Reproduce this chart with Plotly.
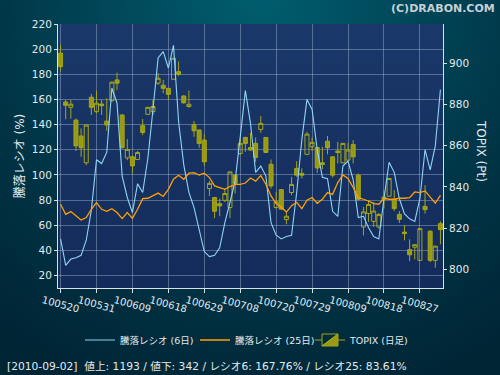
import base64
import plotly.graph_objects as go

# ---------------- data ----------------
dates = [
    "100520", "100521", "100524", "100525", "100526", "100527", "100528", "100531",
    "100601", "100602", "100603", "100604", "100607", "100608", "100609", "100610",
    "100611", "100614", "100615", "100616", "100617", "100618", "100621", "100622",
    "100623", "100624", "100625", "100628", "100629", "100630",
    "100701", "100702", "100705", "100706", "100707", "100708", "100709", "100712",
    "100713", "100714", "100715", "100716", "100720", "100721", "100722", "100723",
    "100726", "100727", "100728", "100729", "100730",
    "100802", "100803", "100804", "100805", "100806", "100809", "100810", "100811",
    "100812", "100813", "100816", "100817", "100818", "100819", "100820", "100823",
    "100824", "100825", "100826", "100827", "100830", "100831",
    "100901", "100902",
]
tick_labels = ["100520", "100531", "100609", "100618", "100629", "100708",
               "100720", "100729", "100809", "100818", "100827"]

topix_open = [904.9, 881.2, 878.6, 872.4, 864.7, 851.7, 883.5, 876.5, 880.2, 871.9,
              881.8, 891.9, 874.9, 854.1, 854.6, 853.3, 869.7, 875.2, 876.5, 890.3,
              889.3, 887.8, 892.2, 895.9, 884.1, 879.0, 870.3, 867.6, 862.7, 839.2,
              834.9, 831.9, 833.5, 830.0, 845.7, 856.2, 864.0, 859.1, 861.1, 867.9,
              864.0, 851.0, 830.0, 838.7, 824.2, 837.3, 849.0, 846.5, 855.8, 859.5,
              859.1, 851.7, 862.2, 854.6, 857.4, 851.7, 853.0, 860.6, 845.7, 820.6,
              827.1, 823.3, 820.6, 834.0, 835.5, 833.9, 826.7, 818.1, 809.6, 810.8,
              804.4, 830.6, 818.5, 804.4, 822.2]
topix_high = [908.9, 882.2, 882.2, 873.1, 868.4, 870.3, 885.1, 886.7, 882.2, 883.0,
              891.1, 895.4, 875.2, 863.2, 855.4, 857.4, 872.9, 878.8, 882.2, 895.2,
              891.9, 888.0, 902.6, 900.8, 884.5, 886.7, 872.0, 867.8, 865.6, 842.9,
              835.1, 834.4, 839.2, 847.5, 845.9, 863.5, 864.3, 866.3, 864.0, 874.4,
              864.2, 853.3, 837.6, 838.9, 827.6, 844.9, 852.5, 849.0, 866.7, 864.0,
              859.3, 859.5, 864.7, 854.9, 861.9, 861.3, 861.4, 862.7, 846.5, 830.3,
              833.5, 832.7, 827.4, 838.1, 844.3, 838.4, 828.3, 821.4, 814.6, 812.2,
              820.0, 840.8, 819.0, 811.5, 823.3]
topix_low = [895.9, 872.8, 873.1, 857.4, 854.6, 850.6, 874.9, 875.7, 874.9, 867.2,
             881.3, 887.0, 858.7, 853.0, 846.5, 853.0, 865.1, 875.0, 874.9, 889.5,
             885.4, 882.2, 892.0, 893.8, 880.3, 878.4, 864.3, 859.0, 850.2, 835.6,
             824.9, 825.8, 832.7, 824.9, 836.8, 855.4, 857.0, 857.5, 852.2, 866.3,
             856.5, 839.2, 829.5, 829.0, 821.9, 836.0, 844.9, 844.1, 855.4, 857.4,
             846.8, 848.6, 855.8, 844.6, 851.4, 851.5, 853.0, 851.4, 833.5, 816.5,
             823.0, 820.6, 819.8, 829.5, 835.3, 828.3, 822.5, 814.1, 804.0, 804.9,
             804.2, 827.1, 803.5, 800.8, 812.2]
topix_close = [898.3, 879.6, 880.1, 859.9, 859.0, 870.0, 878.6, 880.6, 879.4, 870.0,
               890.8, 890.3, 859.0, 858.2, 850.2, 856.7, 866.4, 878.6, 879.0, 892.7,
               887.8, 884.9, 902.4, 894.6, 880.8, 880.1, 867.2, 861.1, 852.2, 841.7,
               828.2, 830.8, 836.8, 847.3, 841.7, 861.1, 861.1, 857.9, 854.3, 870.8,
               856.7, 840.5, 832.8, 829.2, 825.8, 841.2, 845.7, 845.7, 865.6, 861.6,
               849.2, 850.9, 859.0, 845.7, 856.7, 861.1, 857.9, 854.6, 834.0, 827.9,
               831.5, 828.3, 826.6, 835.1, 844.1, 829.5, 824.3, 817.4, 807.1, 812.0,
               819.8, 829.0, 804.4, 811.3, 819.3]

ratio6 = [49, 28, 33, 34, 36, 48, 72, 112, 109, 118,
          169, 157, 99, 82, 70, 93, 86, 113, 152, 193,
          198, 185, 203, 142, 108, 86, 74, 57, 39, 35,
          36, 42, 62, 78, 95, 130, 167, 141, 102, 107,
          99, 62, 52, 49, 51, 52, 86, 128, 160, 152,
          120, 98, 97, 71, 67, 107, 111, 96, 66, 67,
          58, 51, 49, 81, 110, 102, 81, 69, 65, 63,
          81, 120, 104, 123, 167.76]
ratio25 = [76.6, 68.6, 70.8, 67.8, 64.1, 66.0, 72.6, 77.9, 72.6, 71.0,
           73.1, 70.0, 65.2, 70.0, 65.4, 72.6, 81.1, 81.4, 83.5, 85.5,
           82.8, 88.5, 96.5, 99.7, 96.5, 101.3, 101.8, 99.9, 101.3, 97.8,
           91.2, 89.6, 88.5, 90.7, 92.5, 92.5, 93.5, 97.5, 95.0, 99.5,
           92.5, 83.2, 77.1, 74.3, 70.4, 75.5, 78.2, 73.1, 79.8, 81.9,
           77.4, 80.6, 85.9, 84.5, 93.9, 100.0, 97.1, 89.9, 81.9, 80.6,
           79.2, 77.1, 76.6, 81.4, 80.6, 80.6, 81.4, 81.4, 81.9, 86.4,
           85.9, 87.2, 81.9, 77.4, 83.61]

info_text = "[2010-09-02]\u00a0 値上: 1193 / 値下: 342 / レシオ6: 167.76% / レシオ25: 83.61%"

# ---------------- layout geometry ----------------
W, H = 500, 375
ML, MR, MT, MB = 58, 57, 24, 87
PW, PH = W - ML - MR, H - MT - MB

def px_x(px):
    return (px - ML) / PW

def px_y(py):
    return (H - MB - py) / PH

# background (radial teal gradient + navy plot panel) as an svg image
svg = f'''<svg xmlns="http://www.w3.org/2000/svg" width="{W}" height="{H}" viewBox="0 0 {W} {H}" preserveAspectRatio="none">
<defs>
<radialGradient id="g" gradientUnits="userSpaceOnUse" cx="260" cy="0" r="420">
<stop offset="0" stop-color="#005d6c"/>
<stop offset="0.35" stop-color="#00485a"/>
<stop offset="0.7" stop-color="#003243"/>
<stop offset="1" stop-color="#002535"/>
</radialGradient>
<linearGradient id="p" x1="0" y1="0" x2="0" y2="1">
<stop offset="0" stop-color="#1a386a"/>
<stop offset="1" stop-color="#132b5a"/>
</linearGradient>
</defs>
<rect x="0" y="0" width="{W}" height="{H}" fill="url(#g)"/>
<rect x="{ML}" y="{MT}" width="{PW}" height="{PH}" fill="url(#p)"/>
</svg>'''
bg_src = "data:image/svg+xml;base64," + base64.b64encode(svg.encode()).decode()

FONT = "DejaVu Sans, Noto Sans CJK JP, sans-serif"
TXT = "#e4eaee"
GRID = "rgba(190,205,230,0.38)"
AXIS = "#d8e0e8"
CANDLE = "#a5a51a"

fig = go.Figure()
fig.add_trace(go.Candlestick(
    x=dates, open=topix_open, high=topix_high, low=topix_low, close=topix_close,
    name="TOPIX (日足)", legendrank=3, yaxis="y",
    increasing=dict(line=dict(color=CANDLE, width=1), fillcolor="rgba(0,0,0,0)"),
    decreasing=dict(line=dict(color=CANDLE, width=1), fillcolor="#9a9a12"),
    whiskerwidth=0,
))
fig.add_trace(go.Scatter(
    x=dates, y=ratio6, mode="lines", name="騰落レシオ (6日)", legendrank=1,
    yaxis="y2", line=dict(color="#8fd4f4", width=1.1),
))
fig.add_trace(go.Scatter(
    x=dates, y=ratio25, mode="lines", name="騰落レシオ (25日)", legendrank=2,
    yaxis="y2", line=dict(color="#ffa000", width=1.3),
))

fig.update_layout(
    width=W, height=H,
    margin=dict(l=ML, r=MR, t=MT, b=MB, pad=0, autoexpand=False),
    paper_bgcolor="#003444",
    plot_bgcolor="rgba(0,0,0,0)",
    font=dict(family=FONT, color=TXT, size=11),
    boxgap=0.22, boxgroupgap=0,
    showlegend=True,
    legend=dict(orientation="h", x=px_x(80), xanchor="left", y=px_y(340), yanchor="middle",
                font=dict(size=9.5, color=TXT), bgcolor="rgba(0,0,0,0)",
                entrywidth=70, entrywidthmode="pixels",
                traceorder="normal"),
    xaxis=dict(
        type="category", range=[-0.5, len(dates) - 0.5], automargin=False,
        tickmode="array", tickvals=tick_labels, ticktext=tick_labels,
        tickangle=15, ticklabelshift=-18, ticklabelstandoff=-2,
        tickfont=dict(size=10, color=TXT),
        showgrid=True, gridcolor=GRID, gridwidth=1,
        ticks="outside", ticklen=4, tickcolor=AXIS,
        showline=True, linecolor=AXIS, linewidth=1,
        rangeslider=dict(visible=False), fixedrange=True,
    ),
    yaxis=dict(
        side="right", range=[791, 919], tick0=800, dtick=20, automargin=False,
        showgrid=False, zeroline=False,
        ticks="outside", ticklen=3, tickcolor=AXIS,
        showline=True, linecolor=AXIS, linewidth=1,
        tickfont=dict(size=10.5, color=TXT),
    ),
    yaxis2=dict(
        overlaying="y", side="left", range=[10, 220], tick0=20, dtick=20, automargin=False,
        showgrid=True, gridcolor=GRID, gridwidth=1, zeroline=False,
        ticks="outside", ticklen=3, tickcolor=AXIS,
        showline=True, linecolor=AXIS, linewidth=1,
        tickfont=dict(size=10.5, color=TXT),
        title=dict(text="騰落レシオ (%)", font=dict(size=12, color=TXT), standoff=4),
    ),
    images=[dict(source=bg_src, xref="paper", yref="paper",
                 x=px_x(0), y=px_y(0), sizex=W / PW, sizey=H / PH,
                 xanchor="left", yanchor="top", sizing="stretch", layer="below")],
    annotations=[
        dict(text="TOPIX (Pt)", textangle=90, xref="paper", yref="paper",
             x=px_x(481), y=px_y(151), xanchor="center", yanchor="middle",
             showarrow=False, font=dict(size=12, color=TXT)),
        dict(text="<b>(C)DRABON.COM</b>", xref="paper", yref="paper",
             x=px_x(497), y=px_y(8), xanchor="right", yanchor="middle",
             showarrow=False, font=dict(size=11, color="#c6d0d4", family=FONT),
             ),
        dict(text=info_text, xref="paper", yref="paper",
             x=px_x(5), y=px_y(366), xanchor="left", yanchor="middle",
             showarrow=False, font=dict(size=10.7, color=TXT)),
    ],
)

fig.write_html("out.html",
               config={"displayModeBar": False},
               post_script="document.body.style.margin='0';document.body.style.overflow='hidden';")
